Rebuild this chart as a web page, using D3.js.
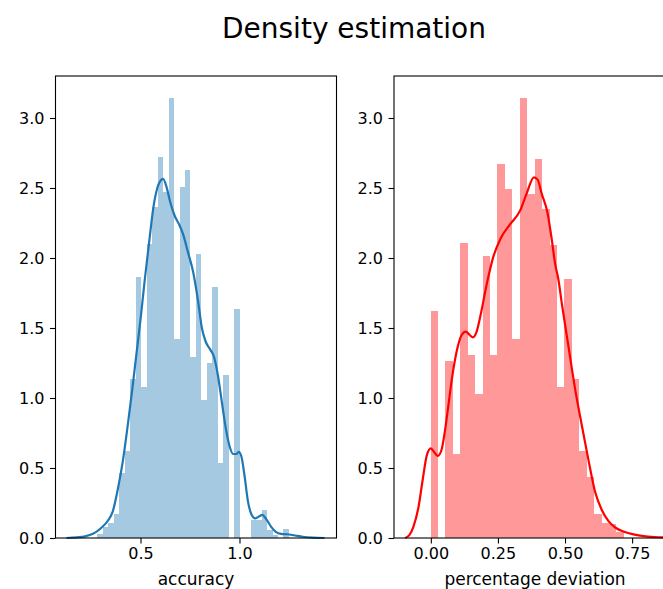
<!DOCTYPE html>
<html>
<head>
<meta charset="utf-8">
<script src="https://cdn.jsdelivr.net/npm/d3@7"></script>
<style>
  body { margin: 0; background: #fff; }
  text { font-family: "DejaVu Sans", sans-serif; fill: #000; }
</style>
</head>
<body>
<svg id="chart" width="663" height="589"></svg>
<script>
// ---------- data ----------
const title = "Density estimation";

// accuracy histogram (density)
const accBinStart = 0.2828;
const accBinWidth = 0.02763;
const accHeights = [0.03, 0.08, 0.11, 0.171, 0.464, 0.618, 1.136, 1.866, 1.076, 2.10,
  2.366, 2.72, 2.47, 3.145, 1.42, 2.51, 2.63, 1.295, 2.03, 0.986,
  1.25, 1.795, 0.538, 1.162, 0, 1.636, 0, 0, 0.128, 0.128,
  0.20, 0.06, 0.02, 0, 0.065];
// accuracy KDE
const accKdeX = [0.126, 0.18, 0.22, 0.26, 0.30, 0.336, 0.36, 0.387, 0.412, 0.437,
  0.46, 0.48, 0.50, 0.522, 0.545, 0.565, 0.585, 0.606, 0.614, 0.631,
  0.65, 0.673, 0.695, 0.715, 0.74, 0.766, 0.79, 0.81, 0.83, 0.855,
  0.87, 0.89, 0.91, 0.93, 0.951, 0.968, 0.985, 0.996, 1.01, 1.025,
  1.043, 1.06, 1.08, 1.10, 1.115, 1.135, 1.16, 1.185, 1.21, 1.24,
  1.28, 1.32, 1.37, 1.43];
const accKdeY = [0.0, 0.005, 0.012, 0.03, 0.07, 0.125, 0.19, 0.36, 0.56, 0.82,
  1.08, 1.32, 1.56, 1.85, 2.13, 2.36, 2.50, 2.56, 2.565, 2.51,
  2.40, 2.30, 2.24, 2.17, 2.04, 1.90, 1.70, 1.50, 1.40, 1.34,
  1.30, 1.17, 0.98, 0.79, 0.65, 0.60, 0.60, 0.615, 0.58, 0.45,
  0.26, 0.17, 0.14, 0.155, 0.165, 0.135, 0.08, 0.042, 0.03, 0.027,
  0.018, 0.009, 0.003, 0.0];

// percentage deviation histogram (density)
const devBinStart = -0.001;
const devBinWidth = 0.0277;
const devHeights = [1.62, 0, 1.266, 0.60, 2.11, 1.31, 1.03, 2.015, 1.31, 2.67,
  2.495, 1.42, 3.14, 2.46, 2.71, 2.35, 2.09, 1.076, 1.853, 1.133,
  0.62, 0.434, 0.17, 0.11, 0.10, 0.04];
// percentage deviation KDE
const devKdeX = [-0.096, -0.08, -0.065, -0.046, -0.03, -0.015, 0.0, 0.012, 0.026, 0.04,
  0.053, 0.065, 0.078, 0.097, 0.115, 0.13, 0.145, 0.157, 0.17, 0.184,
  0.209, 0.233, 0.26, 0.295, 0.333, 0.357, 0.384, 0.398, 0.413, 0.435,
  0.45, 0.463, 0.475, 0.488, 0.513, 0.538, 0.563, 0.587, 0.612, 0.637,
  0.662, 0.687, 0.72, 0.755, 0.80, 0.865, 0.91];
const devKdeY = [0.0, 0.02, 0.08, 0.22, 0.42, 0.59, 0.64, 0.615, 0.586, 0.63,
  0.77, 0.94, 1.13, 1.34, 1.45, 1.474, 1.45, 1.433, 1.47, 1.58,
  1.82, 2.01, 2.14, 2.24, 2.34, 2.46, 2.576, 2.56, 2.46, 2.32,
  2.14, 1.96, 1.85, 1.676, 1.366, 1.06, 0.80, 0.56, 0.33, 0.20,
  0.12, 0.075, 0.045, 0.026, 0.012, 0.004, 0.0];

const yTicks = [0.0, 0.5, 1.0, 1.5, 2.0, 2.5, 3.0];
const accXTicks = [0.5, 1.0];
const devXTicks = [0.00, 0.25, 0.50, 0.75];

// ---------- drawing ----------
const svg = d3.select("#chart");
const plotTop = 76, plotBottom = 538;

svg.append("text")
  .attr("x", 354).attr("y", 38)
  .attr("text-anchor", "middle")
  .style("font-size", "28px")
  .text(title);

function panel(cfg) {
  const x = d3.scaleLinear().domain(cfg.xDomain).range([cfg.left, cfg.right]);
  const y = d3.scaleLinear().domain([0, 3.3]).range([plotBottom, plotTop]);
  const g = svg.append("g");

  const bins = cfg.heights.map((h, i) => ({
    x0: cfg.binStart + i * cfg.binWidth,
    x1: cfg.binStart + (i + 1) * cfg.binWidth,
    h: h
  })).filter(d => d.h > 0);

  g.selectAll("rect.bar").data(bins).enter().append("rect")
    .attr("class", "bar")
    .attr("x", d => x(d.x0))
    .attr("width", d => x(d.x1) - x(d.x0))
    .attr("y", d => y(d.h))
    .attr("height", d => y(0) - y(d.h))
    .attr("fill", cfg.barColor)
    .attr("shape-rendering", "crispEdges");

  const pts = cfg.kdeX.map((v, i) => [v, cfg.kdeY[i]]);
  g.append("path")
    .datum(pts)
    .attr("fill", "none")
    .attr("stroke", cfg.lineColor)
    .attr("stroke-width", 2.2)
    .attr("stroke-linejoin", "round")
    .attr("d", d3.line().x(d => x(d[0])).y(d => y(d[1])).curve(d3.curveMonotoneX));

  // frame
  g.append("rect")
    .attr("x", cfg.left).attr("y", plotTop)
    .attr("width", cfg.right - cfg.left).attr("height", plotBottom - plotTop)
    .attr("fill", "none").attr("stroke", "#000").attr("stroke-width", 1.1);

  // axes
  const xAxis = d3.axisBottom(x).tickValues(cfg.xTicks).tickFormat(cfg.xFmt)
    .tickSizeInner(5.5).tickSizeOuter(0).tickPadding(4.5);
  const gx = g.append("g").attr("transform", `translate(0,${plotBottom})`).call(xAxis);
  const yAxis = d3.axisLeft(y).tickValues(yTicks).tickFormat(d3.format(".1f"))
    .tickSizeInner(5.5).tickSizeOuter(0).tickPadding(5.5);
  const gy = g.append("g").attr("transform", `translate(${cfg.left},0)`).call(yAxis);
  [gx, gy].forEach(a => {
    a.select(".domain").remove();
    a.selectAll("line").attr("stroke", "#000").attr("stroke-width", 1.1);
    a.selectAll("text").style("font-size", "16px").style("font-family", "DejaVu Sans").attr("fill", "#000");
  });

  g.append("text")
    .attr("x", (cfg.left + cfg.right) / 2).attr("y", 585)
    .attr("text-anchor", "middle")
    .style("font-size", "17px")
    .text(cfg.xLabel);
}

panel({
  left: 55.5, right: 336.5, xDomain: [0.0707, 1.49],
  binStart: accBinStart, binWidth: accBinWidth, heights: accHeights,
  kdeX: accKdeX, kdeY: accKdeY,
  barColor: "#a5c9e1", lineColor: "#1f77b4",
  xTicks: accXTicks, xFmt: d3.format(".1f"), xLabel: "accuracy"
});

panel({
  left: 394, right: 676, xDomain: [-0.1372, 0.9135],
  binStart: devBinStart, binWidth: devBinWidth, heights: devHeights,
  kdeX: devKdeX, kdeY: devKdeY,
  barColor: "#ff9999", lineColor: "#ff0000",
  xTicks: devXTicks, xFmt: d3.format(".2f"), xLabel: "percentage deviation"
});
</script>
</body>
</html>
